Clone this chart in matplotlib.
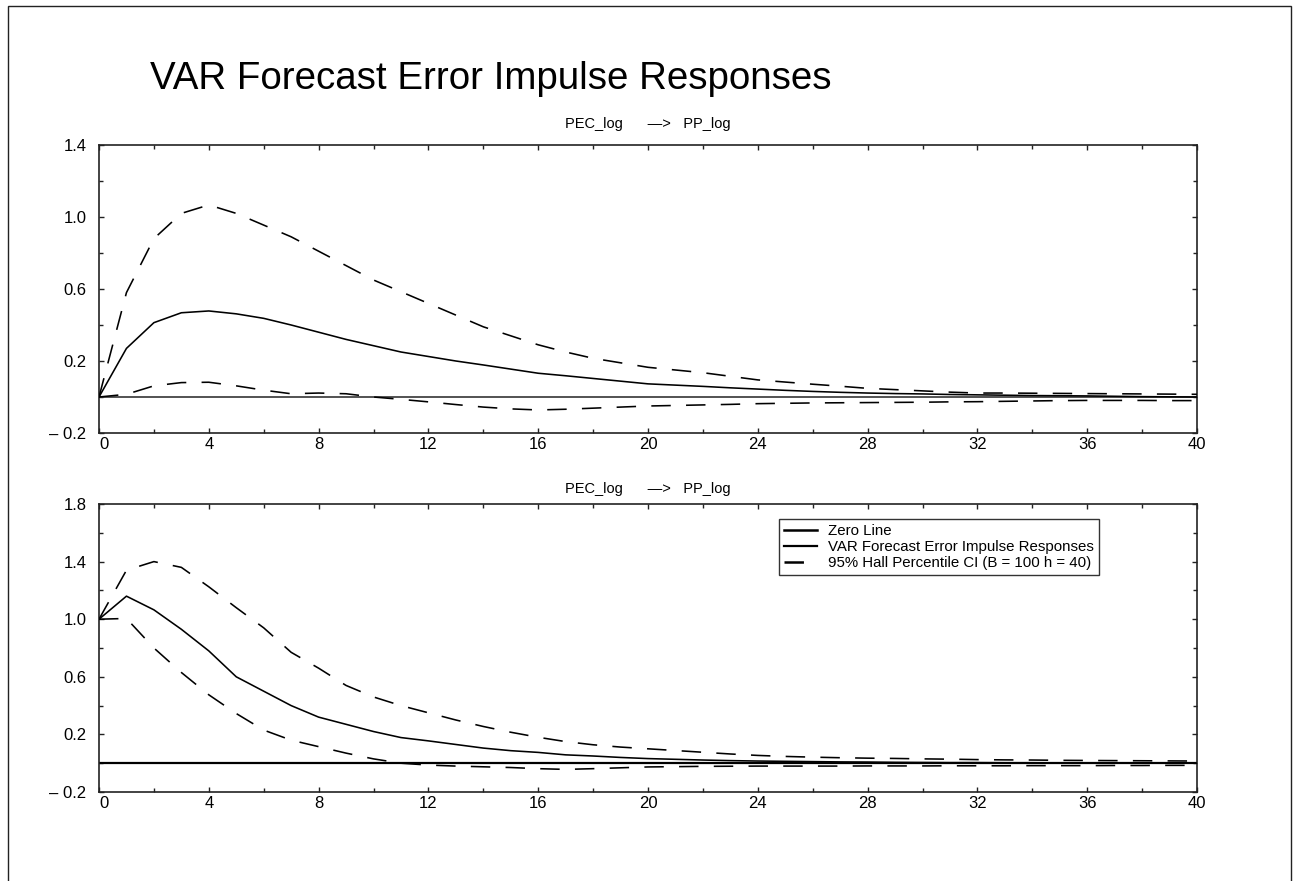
import matplotlib
matplotlib.use("Agg")
import matplotlib.pyplot as plt
from matplotlib.patches import Rectangle
from matplotlib.lines import Line2D
import numpy as np

plt.rcParams['font.family'] = ['Liberation Sans', 'DejaVu Sans']
plt.rcParams['lines.scale_dashes'] = False

horizon = list(range(41))

# Top panel: PEC_log -> PP_log (forecast error impulse responses)
top_irf = [0.0, 0.27, 0.413, 0.468, 0.478, 0.462, 0.437, 0.40, 0.36, 0.32,
           0.285, 0.25, 0.225, 0.20, 0.178, 0.155, 0.132, 0.118, 0.103, 0.088,
           0.073, 0.066, 0.059, 0.051, 0.044, 0.037, 0.031, 0.026, 0.022, 0.019,
           0.017, 0.014, 0.012, 0.010, 0.008, 0.007, 0.006, 0.004, 0.002, 0.001, 0.0]
top_upper = [0.0, 0.58, 0.88, 1.02, 1.067, 1.02, 0.955, 0.89, 0.81, 0.73,
             0.65, 0.585, 0.52, 0.455, 0.39, 0.34, 0.29, 0.25, 0.215, 0.19,
             0.165, 0.15, 0.135, 0.115, 0.095, 0.083, 0.071, 0.06, 0.048, 0.041,
             0.034, 0.027, 0.022, 0.022, 0.021, 0.02, 0.019, 0.018, 0.017, 0.016, 0.015]
top_lower = [0.0, 0.015, 0.062, 0.08, 0.082, 0.062, 0.038, 0.018, 0.022, 0.018,
             0.0, -0.013, -0.027, -0.042, -0.056, -0.066, -0.072, -0.068, -0.062, -0.056,
             -0.05, -0.047, -0.044, -0.041, -0.037, -0.035, -0.033, -0.032, -0.031, -0.030,
             -0.029, -0.027, -0.026, -0.024, -0.022, -0.02, -0.019, -0.019, -0.019, -0.02, -0.02]

# Bottom panel
bot_irf = [1.0, 1.16, 1.065, 0.93, 0.78, 0.60, 0.50, 0.40, 0.32, 0.27,
           0.22, 0.178, 0.155, 0.13, 0.105, 0.087, 0.075, 0.058, 0.05, 0.04,
           0.032, 0.027, 0.022, 0.018, 0.015, 0.013, 0.011, 0.009, 0.008, 0.006,
           0.005, 0.004, 0.004, 0.003, 0.003, 0.002, 0.002, 0.001, 0.001, 0.0, 0.0]
bot_upper = [1.0, 1.34, 1.40, 1.36, 1.225, 1.08, 0.94, 0.77, 0.66, 0.54,
             0.46, 0.40, 0.35, 0.30, 0.255, 0.215, 0.18, 0.15, 0.128, 0.112,
             0.10, 0.088, 0.076, 0.064, 0.054, 0.047, 0.042, 0.038, 0.035, 0.033,
             0.03, 0.028, 0.025, 0.023, 0.022, 0.02, 0.019, 0.018, 0.017, 0.016, 0.015]
bot_lower = [1.0, 1.005, 0.80, 0.63, 0.475, 0.345, 0.23, 0.16, 0.115, 0.07,
             0.03, 0.0, -0.013, -0.02, -0.025, -0.03, -0.038, -0.043, -0.038, -0.032,
             -0.026, -0.024, -0.022, -0.021, -0.02, -0.02, -0.02, -0.02, -0.019, -0.019,
             -0.019, -0.018, -0.018, -0.018, -0.017, -0.017, -0.017, -0.016, -0.016, -0.015, -0.015]

title = "VAR Forecast Error Impulse Responses"
panel_title = "PEC_log      \u2014>   PP_log"
legend_labels = ["Zero Line", "VAR Forecast Error Impulse Responses",
                 "95% Hall Percentile CI (B = 100 h = 40)"]
x_ticks = [0, 4, 8, 12, 16, 20, 24, 28, 32, 36, 40]
top_yticks = [-0.2, 0.2, 0.6, 1.0, 1.4]
bot_yticks = [-0.2, 0.2, 0.6, 1.0, 1.4, 1.8]

W, H = 1298, 881
fig = plt.figure(figsize=(W / 100, H / 100), dpi=100)

# outer frame
fig.add_artist(Rectangle((8 / W, -0.05), (1291 - 8) / W, 1.05 - 6 / H,
                         transform=fig.transFigure, fill=False, lw=1.0,
                         edgecolor='#222222'))

fig.text(150 / W, 1 - 89 / H, title, fontsize=27.7, ha='left', va='baseline')

left = 99 / W
width = (1197 - 99) / W
ax1 = fig.add_axes([left, 1 - 433 / H, width, (433 - 145) / H])
ax2 = fig.add_axes([left, 1 - 792 / H, width, (792 - 504) / H])

DASH = (0, (14.0, 11.0))
LW = 1.15


def fmt_y(v):
    if v < 0:
        return "\u2013 %.1f" % abs(v)
    return "%.1f" % v


def style(ax, ylim, yticks, zero_color, zero_lw):
    ax.set_xlim(0, 40)
    ax.set_ylim(*ylim)
    ax.set_xticks(x_ticks)
    ax.set_xticks(np.arange(0, 41, 2), minor=True)
    ax.set_xticklabels([str(t) for t in x_ticks])
    ax.set_yticks(yticks)
    ax.set_yticks(np.arange(ylim[0], ylim[1] + 0.01, 0.2), minor=True)
    ax.set_yticklabels([fmt_y(v) for v in yticks])
    ax.tick_params(which='both', direction='in', top=True, right=True,
                   labelsize=12, width=1.0, color='#222222')
    ax.tick_params(which='major', length=3.5, pad=3)
    ax.tick_params(which='minor', length=3.0)
    ax.tick_params(axis='y', pad=9)
    ax.get_xticklabels()[0].set_ha('left')
    for s in ax.spines.values():
        s.set_linewidth(1.2)
        s.set_color('#222222')
    ax.axhline(0, color=zero_color, lw=zero_lw, zorder=2)


ax1.plot(horizon, top_irf, color='black', lw=LW, zorder=3)
ax1.plot(horizon, top_upper, color='black', lw=LW, linestyle=DASH, zorder=3)
ax1.plot(horizon, top_lower, color='black', lw=LW, linestyle=DASH, zorder=3)
style(ax1, (-0.2, 1.4), top_yticks, '#444444', 1.3)

ax2.plot(horizon, bot_irf, color='black', lw=LW, zorder=3)
ax2.plot(horizon, bot_upper, color='black', lw=LW, linestyle=DASH, zorder=3)
ax2.plot(horizon, bot_lower, color='black', lw=LW, linestyle=DASH, zorder=3)
style(ax2, (-0.2, 1.8), bot_yticks, 'black', 1.6)

fig.text(648 / W, 1 - 128 / H, panel_title, fontsize=10.5, ha='center', va='baseline')
fig.text(648 / W, 1 - 493 / H, panel_title, fontsize=10.5, ha='center', va='baseline')

handles = [Line2D([], [], color='black', lw=1.8),
           Line2D([], [], color='black', lw=1.6),
           Line2D([], [], color='black', lw=1.8, linestyle=(0, (14.0, 11.0)))]
leg = ax2.legend(handles, legend_labels, loc='upper left',
                 bbox_to_anchor=((779 - 99) / 1098, (792 - 519) / 288),
                 borderaxespad=0, fontsize=10.8, frameon=True, fancybox=False,
                 handlelength=2.2, handletextpad=0.7, labelspacing=0.12,
                 borderpad=0.35)
leg.get_frame().set_edgecolor('black')
leg.get_frame().set_linewidth(1.0)

fig.savefig("out.png", dpi=100)
